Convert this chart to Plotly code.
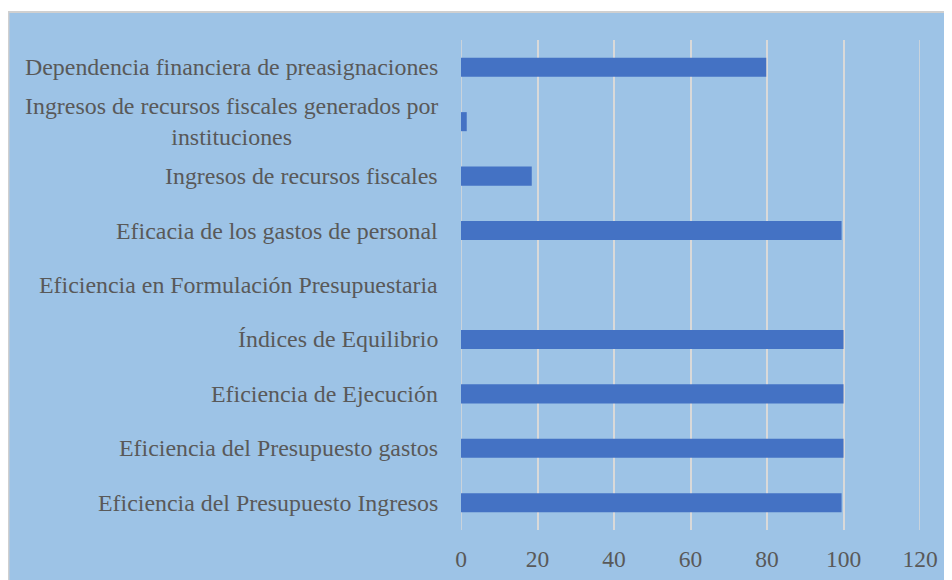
import plotly.graph_objects as go

# categories listed top to bottom, as they appear in the chart
categories = [
    "Dependencia financiera de preasignaciones",
    "Ingresos de recursos fiscales generados por<br>instituciones",
    "Ingresos de recursos fiscales",
    "Eficacia de los gastos de personal",
    "Eficiencia en Formulación Presupuestaria",
    "Índices de Equilibrio",
    "Eficiencia de Ejecución",
    "Eficiencia del Presupuesto gastos",
    "Eficiencia del Presupuesto Ingresos",
]
values = [79.8, 1.5, 18.5, 99.5, 0, 100, 100, 100, 99.5]
x_ticks = [0, 20, 40, 60, 80, 100, 120]

BG = "#9DC3E6"
BAR = "#4472C4"
GRID = "#D9D9D9"
TXT = "#595959"
FONT = "Liberation Serif"

fig = go.Figure()
fig.add_trace(go.Bar(
    x=values, y=categories, orientation="h",
    marker=dict(color=BAR, line=dict(width=0)),
    width=0.35,
    hoverinfo="x+y",
))

# category labels as annotations so wrapped lines stay centred
annotations = [
    dict(x=-0.046, y=c, xref="paper", yref="y", text=c, showarrow=False,
         xanchor="right", yanchor="middle", align="center",
         font=dict(family=FONT, size=23.9, color=TXT))
    for c in categories
]

# chart-area background (grey border on top/left) + edge gridlines
shapes = [dict(type="rect", xref="paper", yref="paper", layer="below",
               x0=-0.986, x1=1.2, y0=-0.2, y1=1.057,
               fillcolor=BG, line=dict(color="#D0D0D0", width=2))]
for xv in (x_ticks[0], x_ticks[-1]):
    shapes.append(dict(type="line", xref="x", yref="paper", layer="below",
                       x0=xv, x1=xv, y0=0, y1=1,
                       line=dict(color=GRID, width=1.5)))

fig.update_layout(
    width=952, height=580,
    margin=dict(l=453, r=40, t=32, b=58),
    paper_bgcolor="white", plot_bgcolor=BG,
    showlegend=False,
    bargap=0.65,
    font=dict(family=FONT, color=TXT),
    annotations=annotations,
    shapes=shapes,
    xaxis=dict(range=[0, 120], tickvals=x_ticks, showgrid=True,
               gridcolor=GRID, gridwidth=1.5, zeroline=False,
               showline=False, ticks="", ticklabelstandoff=12,
               tickfont=dict(family=FONT, size=23.5, color=TXT),
               fixedrange=True),
    yaxis=dict(autorange="reversed", showticklabels=False, showgrid=False,
               zeroline=False, showline=False, ticks="", fixedrange=True),
)

fig.write_html("out.html")
